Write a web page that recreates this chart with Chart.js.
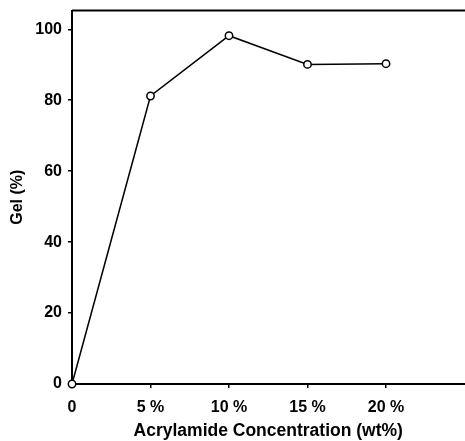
<!DOCTYPE html>
<html>
<head>
<meta charset="utf-8">
<script src="https://cdn.jsdelivr.net/npm/chart.js@4/dist/chart.umd.min.js"></script>
<style>
html,body{margin:0;padding:0;background:#fff;overflow:hidden;}
#wrap{width:470px;height:441px;}
</style>
</head>
<body>
<div id="wrap"><canvas id="c" width="470" height="441"></canvas></div>
<script>
const concentrations = [0, 5, 10, 15, 20];
const gelPercent = [0, 81.2, 98.2, 90.1, 90.3];
const xTickValues = [0, 5, 10, 15, 20];
const xTickLabels = ['0', '5 %', '10 %', '15 %', '20 %'];
const yTickValues = [0, 20, 40, 60, 80, 100];
const xTitle = 'Acrylamide Concentration (wt%)';
const yTitle = 'Gel (%)';

const points = concentrations.map((x, i) => ({x: x, y: gelPercent[i]}));
const FONT = 'Arial, "Liberation Sans", sans-serif';

const topBorder = {
  id: 'topBorder',
  afterDraw(chart) {
    const {ctx, chartArea} = chart;
    ctx.save();
    ctx.strokeStyle = '#000';
    ctx.lineWidth = 2;
    ctx.beginPath();
    ctx.moveTo(chartArea.left, chartArea.top);
    ctx.lineTo(chartArea.right + 5, chartArea.top);
    ctx.stroke();
    ctx.restore();
  }
};

new Chart(document.getElementById('c'), {
  type: 'scatter',
  data: {
    datasets: [{
      data: points,
      showLine: true,
      borderColor: '#000',
      borderWidth: 1.5,
      pointRadius: 3.7,
      pointBorderWidth: 1.5,
      pointBackgroundColor: '#fff',
      pointBorderColor: '#000',
      clip: false
    }]
  },
  options: {
    responsive: false,
    animation: false,
    layout: {padding: {top: 10.5, left: 0, right: 0, bottom: 0}},
    plugins: {legend: {display: false}, tooltip: {enabled: false}},
    scales: {
      x: {
        type: 'linear',
        min: 0,
        max: 25,
        afterFit(scale) { scale.height = 57; scale.paddingLeft = 0; scale.paddingRight = 0; },
        afterBuildTicks(scale) { scale.ticks = xTickValues.map(v => ({value: v})); },
        ticks: {
          color: '#000',
          font: {family: FONT, size: 16, weight: 'bold'},
          padding: 10,
          maxRotation: 0,
          callback: (v) => { const i = xTickValues.indexOf(v); return i >= 0 ? xTickLabels[i] : ''; }
        },
        grid: {drawOnChartArea: false, drawTicks: true, tickLength: 4, color: '#000', lineWidth: 1.5},
        border: {display: true, color: '#000', width: 2},
        title: {
          display: true, text: xTitle, color: '#000',
          font: {family: FONT, size: 17.5, weight: 'bold'},
          padding: {top: 0, bottom: -1}
        }
      },
      y: {
        type: 'linear',
        min: 0,
        max: 105.3,
        afterFit(scale) { scale.width = 72; scale.paddingTop = 0; scale.paddingBottom = 0; },
        afterBuildTicks(scale) { scale.ticks = yTickValues.map(v => ({value: v})); },
        ticks: {
          color: '#000',
          font: {family: FONT, size: 16, weight: 'bold'},
          padding: 6
        },
        grid: {drawOnChartArea: false, drawTicks: true, tickLength: 4, color: '#000', lineWidth: 1.5},
        border: {display: true, color: '#000', width: 2},
        title: {
          display: true, text: yTitle, color: '#000',
          font: {family: FONT, size: 16, weight: 'bold'},
          padding: {top: 8, bottom: 0}
        }
      }
    }
  },
  plugins: [topBorder]
});
</script>
</body>
</html>
